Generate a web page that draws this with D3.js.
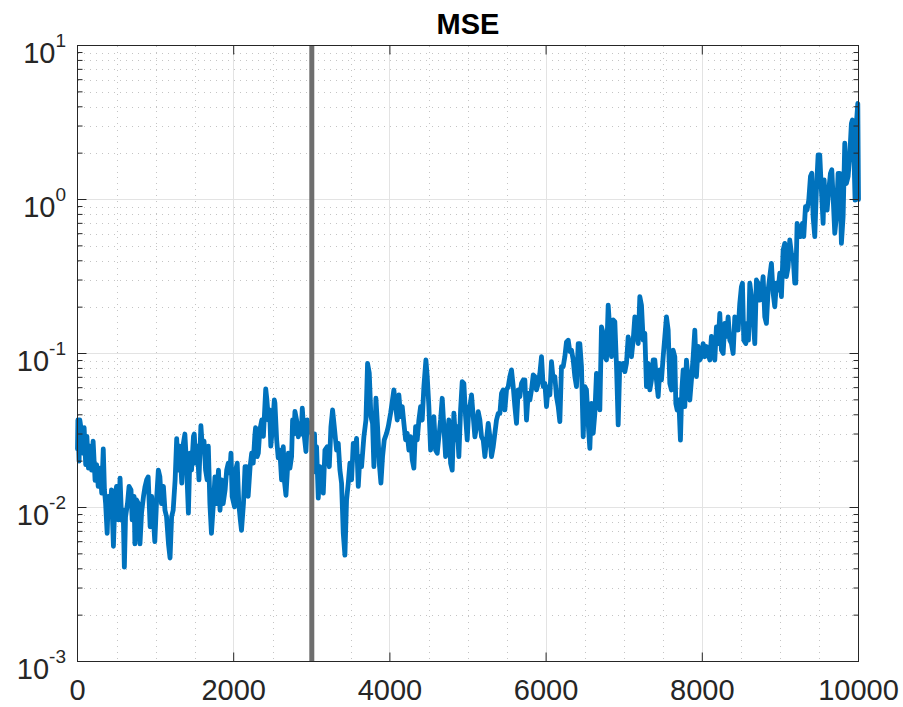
<!DOCTYPE html>
<html>
<head>
<meta charset="utf-8">
<script src="https://cdn.jsdelivr.net/npm/d3@7"></script>
<style>
  body { margin: 0; background: #fff; }
  text { font-family: "Liberation Sans", Arial, Helvetica, sans-serif; fill: #262626; }
</style>
</head>
<body>
<div id="chart"></div>
<script>
// iteration number of each sample
const iterations = [
  0, 5, 20, 30, 55, 75, 85, 105, 120, 140, 160, 180, 200, 225, 245, 265, 290, 310, 330, 345,
  360, 380, 395, 415, 435, 460, 480, 500, 525, 545, 565, 585, 600, 615, 640, 660, 685, 700, 725, 735,
  755, 780, 800, 820, 845, 865, 885, 905, 930, 950, 970, 990, 1015, 1035, 1055, 1075, 1100, 1120, 1140, 1165,
  1185, 1205, 1225, 1250, 1270, 1290, 1310, 1335, 1355, 1375, 1395, 1420, 1440, 1460, 1485, 1495, 1515, 1535, 1555, 1580,
  1600, 1620, 1640, 1660, 1675, 1695, 1715, 1740, 1760, 1780, 1805, 1825, 1845, 1865, 1890, 1910, 1930, 1950, 1965, 1980,
  2010, 2025, 2045, 2065, 2085, 2100, 2125, 2145, 2165, 2185, 2210, 2230, 2250, 2270, 2280, 2300, 2315, 2335, 2360, 2380,
  2410, 2425, 2445, 2460, 2475, 2500, 2520,
  2528, 2550, 2570, 2590, 2613, 2635, 2652, 2669, 2686, 2699, 2720, 2741, 2754, 2771, 2784, 2805, 2827, 2848, 2865, 2878,
  2900, 2925, 2942, 2960, 3000, 3035, 3045, 3061, 3083, 3104, 3125, 3147, 3168, 3198, 3224, 3245, 3266, 3288, 3317, 3339,
  3360, 3381, 3403, 3424, 3445, 3467, 3488, 3509, 3531, 3552, 3573, 3595, 3616, 3637, 3667, 3693, 3714, 3736, 3757, 3778,
  3795, 3821, 3842, 3864, 3885, 3906, 3928, 3957, 3979, 4009, 4030, 4051, 4073, 4094, 4115, 4137, 4158, 4179, 4201, 4222,
  4243, 4265, 4286, 4307, 4329, 4350, 4371, 4393, 4414, 4435, 4461, 4478, 4499, 4521, 4542, 4563, 4585, 4606, 4627, 4649,
  4670, 4691, 4713, 4734, 4755, 4777, 4798, 4819, 4841, 4862, 4883, 4905, 4926, 4947, 4969, 4990, 5011,
  5024, 5045, 5067, 5088, 5109, 5131, 5152, 5173, 5195, 5216, 5237, 5259, 5280, 5301, 5323, 5344, 5365, 5387, 5408, 5429,
  5451, 5472, 5493, 5515, 5536, 5557, 5579, 5600, 5621, 5643, 5664, 5685, 5707, 5728, 5749, 5771, 5792, 5813, 5835, 5856,
  5877, 5899, 5920, 5941, 5963, 5984, 6005, 6027, 6048, 6069, 6091, 6112, 6133, 6155, 6176, 6197, 6219, 6240, 6261, 6283,
  6304, 6325, 6347, 6368, 6389, 6411, 6432, 6453, 6475, 6496, 6517, 6539, 6560, 6581, 6603, 6624, 6645, 6667, 6688, 6709,
  6731, 6752, 6773, 6795, 6816, 6837, 6859, 6880, 6901, 6923, 6944, 6965, 6987, 7008, 7029, 7051, 7072, 7093, 7115, 7136,
  7157, 7179, 7200, 7221, 7243, 7264, 7285, 7307, 7328, 7349, 7371, 7392, 7413, 7435, 7456, 7477, 7499, 7520,
  7541, 7563, 7584, 7605, 7627, 7648, 7661, 7678, 7699, 7720, 7738, 7755, 7776, 7797, 7819, 7840, 7861, 7883, 7904, 7925,
  7947, 7968, 7989, 8011, 8032, 8053, 8075, 8096, 8117, 8139, 8160, 8181, 8203, 8224, 8245, 8267, 8288, 8309, 8331, 8352,
  8373, 8395, 8416, 8437, 8459, 8480, 8501, 8514, 8531, 8557, 8574, 8591, 8608, 8629, 8651, 8672, 8693, 8715, 8736, 8757,
  8779, 8800, 8821, 8843, 8864, 8885, 8907, 8928, 8949, 8971, 8992, 9013, 9035, 9056, 9077, 9099, 9120, 9141, 9163, 9184,
  9197, 9214, 9235, 9257, 9282, 9299, 9321, 9342, 9363, 9385, 9402, 9419, 9440, 9461, 9483, 9504, 9525, 9547, 9560, 9577,
  9598, 9619, 9641, 9658, 9675, 9696, 9717, 9739, 9760, 9781, 9803, 9824, 9845, 9867, 9888, 9909, 9922, 9939, 9956, 9973,
  9991, 10000
];

// MSE, one per iteration above
const mseValues = [
  0.024, 0.037, 0.020, 0.037, 0.030, 0.0225, 0.033, 0.019, 0.029, 0.018, 0.025, 0.0175, 0.027, 0.015, 0.019, 0.0137, 0.018, 0.0124, 0.024, 0.013,
  0.0106, 0.0068, 0.0118, 0.0087, 0.013, 0.0056, 0.0118, 0.0137, 0.0083, 0.0155, 0.0083, 0.0096, 0.0041, 0.0087, 0.0106, 0.0137, 0.013, 0.0083, 0.0118, 0.0058,
  0.0112, 0.0106, 0.0058, 0.0092, 0.0118, 0.0137, 0.0151, 0.0158, 0.0075, 0.0118, 0.0087, 0.006, 0.0118, 0.0175, 0.0158, 0.0106, 0.0137, 0.0096, 0.0087, 0.0058,
  0.0047, 0.0087, 0.0096, 0.0151, 0.028, 0.0175, 0.025, 0.0144, 0.026, 0.030, 0.0194, 0.0092, 0.0225, 0.0175, 0.029, 0.030, 0.0194, 0.025, 0.0151, 0.034,
  0.024, 0.027, 0.0175, 0.0151, 0.025, 0.0106, 0.0068, 0.0106, 0.0158, 0.0106, 0.0175, 0.0096, 0.0151, 0.0106, 0.013, 0.0175, 0.0194, 0.0167, 0.0225, 0.0118,
  0.0101, 0.0175, 0.0194, 0.0106, 0.0083, 0.0071, 0.0106, 0.0184, 0.0184, 0.0118, 0.0184, 0.0225, 0.0194, 0.029, 0.033, 0.0214, 0.0225, 0.032, 0.037, 0.029,
  0.059, 0.050, 0.037, 0.043, 0.025, 0.035, 0.050,
  0.0475, 0.0275, 0.021, 0.0236, 0.0151, 0.0248, 0.0144, 0.012, 0.0167, 0.0225, 0.018, 0.0214, 0.037, 0.030, 0.042, 0.037, 0.0288, 0.0352, 0.030, 0.0441,
  0.0303, 0.0231, 0.037, 0.033, 0.030, 0.030, 0.017, 0.0248, 0.0115, 0.0184, 0.0167, 0.0124, 0.0236, 0.0248, 0.0184, 0.0335, 0.043, 0.0335, 0.0236, 0.0261,
  0.0175, 0.0144, 0.0068, 0.0049, 0.0112, 0.0144, 0.0194, 0.0151, 0.0261, 0.0225, 0.0281, 0.0137, 0.0214, 0.0184, 0.0288, 0.037, 0.0863, 0.0744, 0.0389, 0.0352,
  0.0184, 0.0512, 0.0335, 0.0194, 0.0144, 0.0214, 0.0275, 0.0303, 0.0335, 0.041, 0.0487, 0.058, 0.0452, 0.037, 0.0538, 0.0389, 0.0452, 0.0352, 0.0275, 0.0303,
  0.0236, 0.0288, 0.0204, 0.018, 0.0335, 0.0275, 0.037, 0.0452, 0.037, 0.061, 0.0908, 0.0708, 0.0452, 0.0236, 0.0303, 0.0389, 0.0236, 0.0225, 0.0288, 0.037,
  0.0512, 0.0335, 0.0214, 0.0275, 0.037, 0.0194, 0.0175, 0.041, 0.0275, 0.0335, 0.0214, 0.043, 0.0656, 0.064, 0.0389, 0.0275, 0.0452,
  0.0452, 0.0538, 0.0389, 0.0288, 0.0335, 0.0419, 0.037, 0.0288, 0.0274, 0.0214, 0.0274, 0.0352, 0.0288, 0.0214, 0.0248, 0.0303, 0.037, 0.0408, 0.0408, 0.0551,
  0.058, 0.043, 0.058, 0.061, 0.0708, 0.0782, 0.061, 0.0452, 0.0352, 0.058, 0.0525, 0.064, 0.0673, 0.0673, 0.037, 0.0551, 0.0499, 0.058, 0.0725, 0.0708,
  0.058, 0.064, 0.0743, 0.0953, 0.061, 0.064, 0.0452, 0.061, 0.0538, 0.0885, 0.0673, 0.0708, 0.0525, 0.0452, 0.0361, 0.0822, 0.0822, 0.0953, 0.119, 0.122,
  0.103, 0.105, 0.0908, 0.0708, 0.061, 0.116, 0.116, 0.0822, 0.0288, 0.061, 0.058, 0.0352, 0.0242, 0.0474, 0.0303, 0.0408, 0.0743, 0.0708, 0.043, 0.149,
  0.135, 0.0953, 0.0908, 0.206, 0.142, 0.0953, 0.165, 0.161, 0.0842, 0.0344, 0.0863, 0.0782, 0.0863, 0.0762, 0.0863, 0.128, 0.111, 0.0953, 0.122, 0.173,
  0.149, 0.116, 0.234, 0.206, 0.122, 0.135, 0.061, 0.0863, 0.058, 0.0673, 0.0908, 0.0908, 0.0673, 0.0525, 0.0782, 0.0673, 0.0953, 0.128,
  0.173, 0.142, 0.064, 0.058, 0.105, 0.0953, 0.0474, 0.043, 0.0499, 0.0274, 0.058, 0.0782, 0.0452, 0.0907, 0.0673, 0.0499, 0.0673, 0.0953, 0.142, 0.0707,
  0.111, 0.0907, 0.0953, 0.116, 0.0953, 0.111, 0.10, 0.0907, 0.129, 0.105, 0.0907, 0.149, 0.116, 0.182, 0.105, 0.10, 0.157, 0.129, 0.173, 0.122,
  0.116, 0.10, 0.173, 0.157, 0.142, 0.212, 0.272, 0.286, 0.122, 0.116, 0.157, 0.122, 0.286, 0.234, 0.165, 0.116, 0.30, 0.286, 0.222, 0.246,
  0.316, 0.173, 0.157, 0.258, 0.316, 0.385, 0.246, 0.201, 0.286, 0.258, 0.332, 0.234, 0.47, 0.519, 0.316, 0.366, 0.546, 0.447, 0.425, 0.286,
  0.286, 0.70, 0.634, 0.574, 0.70, 0.574, 0.90, 0.855, 0.99, 1.41, 1.48, 0.773, 0.574, 1.15, 1.95, 1.95, 1.15, 0.70, 1.34, 0.90,
  0.855, 1.15, 1.48, 1.56, 1.04, 0.603, 0.773, 1.48, 1.48, 0.519, 0.773, 2.32, 1.27, 1.41, 1.95, 3.12, 3.28, 2.20, 0.99, 3.12,
  4.2, 1.0
];

const xTicks = [0, 2000, 4000, 6000, 8000, 10000];
const yExponents = [-3, -2, -1, 0, 1];
const markerIteration = 3000;   // grey vertical bar
const chartTitle = 'MSE';

const width = 903, height = 707;
const plot = {left: 77.5, right: 858.5, top: 45.5, bottom: 661.5};

const lineColor = '#0072BD';
const axisColor = '#262626';

const svg = d3.select('#chart')
  .append('svg')
    .attr('width', width)
    .attr('height', height);

// scales
const xScale = d3.scaleLinear()
  .domain([0, 10000])
  .range([plot.left, plot.right]);
const yScale = d3.scaleLog()
  .domain([1e-3, 1e1])
  .range([plot.bottom, plot.top]);

const majorY = yExponents.map(e => Math.pow(10, e));
const minorY = yScale.ticks().filter(v => !majorY.some(m => Math.abs(v - m) / m < 1e-6));
const minorX = xScale.ticks(20).filter(v => !xTicks.includes(v));

// grid: minor dotted first, then solid major
const grid = svg.append('g').attr('shape-rendering', 'crispEdges');

grid.selectAll('.minor-x').data(minorX).join('line')
  .attr('class', 'minor-x')
  .attr('x1', d => Math.round(xScale(d)) + 0.5).attr('x2', d => Math.round(xScale(d)) + 0.5)
  .attr('y1', plot.top).attr('y2', plot.bottom)
  .attr('stroke', '#c4c4c4').attr('stroke-dasharray', '1,5');

grid.selectAll('.minor-y').data(minorY).join('line')
  .attr('class', 'minor-y')
  .attr('x1', plot.left).attr('x2', plot.right)
  .attr('y1', d => Math.round(yScale(d)) + 0.5).attr('y2', d => Math.round(yScale(d)) + 0.5)
  .attr('stroke', '#c4c4c4').attr('stroke-dasharray', '1,5');

grid.selectAll('.major-x').data(xTicks.slice(1, -1)).join('line')
  .attr('class', 'major-x')
  .attr('x1', d => xScale(d)).attr('x2', d => xScale(d))
  .attr('y1', plot.top).attr('y2', plot.bottom)
  .attr('stroke', '#e3e3e3');

grid.selectAll('.major-y').data(majorY.slice(1, -1)).join('line')
  .attr('class', 'major-y')
  .attr('x1', plot.left).attr('x2', plot.right)
  .attr('y1', d => yScale(d)).attr('y2', d => yScale(d))
  .attr('stroke', '#e3e3e3');

// the MSE trace
const series = iterations.map((it, i) => [it, mseValues[i]]);
const line = d3.line()
  .x(d => xScale(d[0]))
  .y(d => yScale(d[1]));

svg.append('path')
  .datum(series)
  .attr('d', line)
  .attr('fill', 'none')
  .attr('stroke', lineColor)
  .attr('stroke-width', 4.8)
  .attr('stroke-linejoin', 'round')
  .attr('stroke-linecap', 'round');

// grey marker bar drawn over the trace
svg.append('line')
  .attr('x1', xScale(markerIteration)).attr('x2', xScale(markerIteration))
  .attr('y1', plot.top).attr('y2', plot.bottom)
  .attr('stroke', '#6e6e6e')
  .attr('stroke-width', 5);

// tick marks on all four sides, pointing inwards
function tickMarks(axis, transform) {
  svg.append('g')
    .attr('transform', transform)
    .call(axis.tickFormat('').offset(0))
    .call(g => g.select('.domain').remove())
    .call(g => g.selectAll('text').remove())
    .call(g => g.selectAll('line').attr('stroke', axisColor));
}
tickMarks(d3.axisBottom(xScale).tickValues(xTicks).tickSize(-9), `translate(0,${plot.bottom})`);
tickMarks(d3.axisTop(xScale).tickValues(xTicks).tickSize(-9), `translate(0,${plot.top})`);
tickMarks(d3.axisLeft(yScale).tickValues(majorY).tickSize(-9), `translate(${plot.left},0)`);
tickMarks(d3.axisLeft(yScale).tickValues(minorY).tickSize(-5), `translate(${plot.left},0)`);
tickMarks(d3.axisRight(yScale).tickValues(majorY).tickSize(-9), `translate(${plot.right},0)`);
tickMarks(d3.axisRight(yScale).tickValues(minorY).tickSize(-5), `translate(${plot.right},0)`);

// box
svg.append('rect')
  .attr('x', plot.left).attr('y', plot.top)
  .attr('width', plot.right - plot.left)
  .attr('height', plot.bottom - plot.top)
  .attr('fill', 'none')
  .attr('stroke', axisColor)
  .attr('stroke-width', 1);

// x tick labels
svg.selectAll('.x-label').data(xTicks).join('text')
  .attr('class', 'x-label')
  .attr('x', d => xScale(d))
  .attr('y', 700)
  .attr('text-anchor', 'middle')
  .style('font-size', '29px')
  .text(d => d);

// y tick labels as 10^n
const yLabels = svg.selectAll('.y-label').data(yExponents).join('text')
  .attr('class', 'y-label')
  .attr('x', 66)
  .attr('y', d => yScale(Math.pow(10, d)) + 17)
  .attr('text-anchor', 'end')
  .style('font-size', '29px')
  .text('10');
yLabels.append('tspan')
  .attr('dy', -16)
  .style('font-size', '19px')
  .text(d => d);

// title
svg.append('text')
  .attr('x', (plot.left + plot.right) / 2)
  .attr('y', 33.5)
  .attr('text-anchor', 'middle')
  .style('font-size', '29px')
  .style('font-weight', 'bold')
  .style('fill', '#000')
  .text(chartTitle);
</script>
</body>
</html>
